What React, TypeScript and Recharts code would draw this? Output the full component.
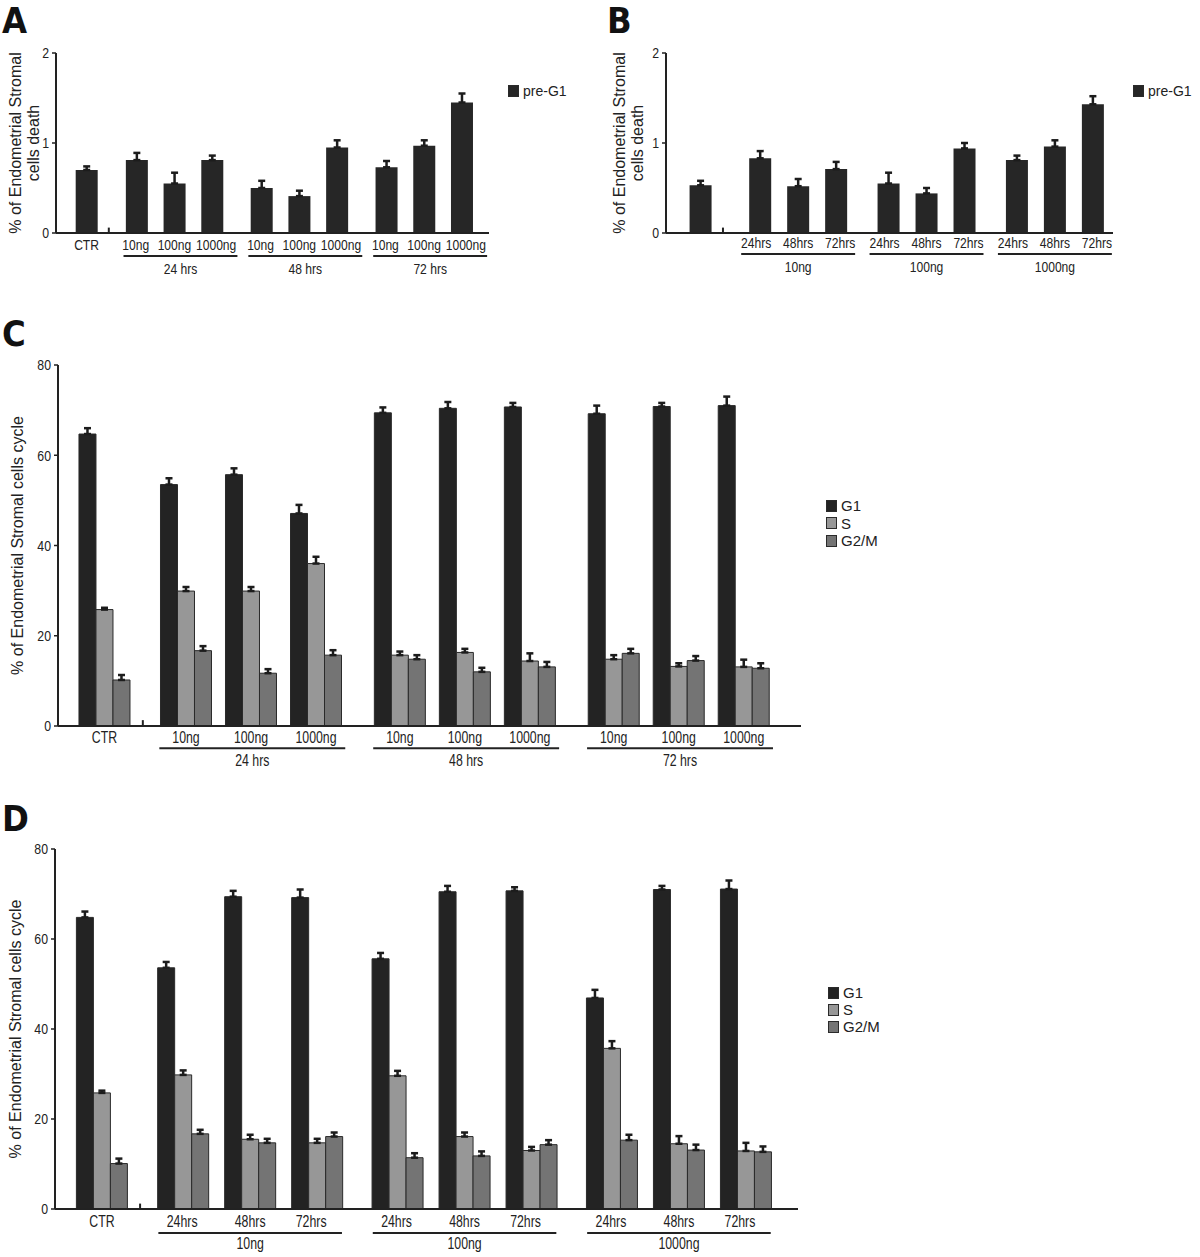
import React from 'react';
import { BarChart, Bar, XAxis, YAxis, ErrorBar, ReferenceLine, Legend } from 'recharts';

const SANS = '"Liberation Sans", Arial, "DejaVu Sans", sans-serif';
const LETTER_FONT = '"DejaVu Sans Condensed", "Liberation Sans Narrow", "Liberation Sans", sans-serif';
const INK = '#222222';

// ---------- Panel A : pre-G1, grouped by time ----------
const A_BAR_LABELS = ['CTR', '10ng', '100ng', '1000ng', '10ng', '100ng', '1000ng', '10ng', '100ng', '1000ng'];
const A_GROUP_LABELS = ['24 hrs', '48 hrs', '72 hrs'];
const A_PRE_G1 = [0.70, 0.81, 0.55, 0.81, 0.50, 0.41, 0.95, 0.73, 0.97, 1.45];
const A_PRE_G1_SEM = [0.04, 0.08, 0.12, 0.05, 0.08, 0.06, 0.08, 0.07, 0.06, 0.10];

// ---------- Panel B : pre-G1, grouped by dose ----------
const B_BAR_LABELS = ['', '24hrs', '48hrs', '72hrs', '24hrs', '48hrs', '72hrs', '24hrs', '48hrs', '72hrs'];
const B_GROUP_LABELS = ['10ng', '100ng', '1000ng'];
const B_PRE_G1 = [0.53, 0.83, 0.52, 0.71, 0.55, 0.44, 0.94, 0.81, 0.96, 1.43];
const B_PRE_G1_SEM = [0.05, 0.08, 0.08, 0.08, 0.12, 0.06, 0.06, 0.05, 0.07, 0.09];

// ---------- Panel C : cell cycle, grouped by time ----------
const C_BAR_LABELS = ['CTR', '10ng', '100ng', '1000ng', '10ng', '100ng', '1000ng', '10ng', '100ng', '1000ng'];
const C_GROUP_LABELS = ['24 hrs', '48 hrs', '72 hrs'];
const C_G1 = [64.7, 53.5, 55.7, 47.1, 69.4, 70.4, 70.7, 69.2, 70.8, 71.0];
const C_G1_SEM = [1.3, 1.4, 1.4, 1.9, 1.2, 1.4, 0.9, 1.8, 0.8, 2.0];
const C_S = [25.8, 29.9, 29.9, 36.0, 15.7, 16.3, 14.4, 14.8, 13.2, 13.1];
const C_S_SEM = [0.4, 0.9, 0.9, 1.5, 0.8, 0.8, 1.7, 0.9, 0.7, 1.6];
const C_G2M = [10.2, 16.7, 11.7, 15.7, 14.8, 12.0, 13.1, 16.1, 14.5, 12.8];
const C_G2M_SEM = [1.1, 1.0, 0.9, 1.1, 0.9, 0.9, 1.1, 1.0, 1.0, 1.1];

// ---------- Panel D : cell cycle, grouped by dose ----------
const D_BAR_LABELS = ['CTR', '24hrs', '48hrs', '72hrs', '24hrs', '48hrs', '72hrs', '24hrs', '48hrs', '72hrs'];
const D_GROUP_LABELS = ['10ng', '100ng', '1000ng'];
const D_G1 = [64.8, 53.6, 69.4, 69.2, 55.6, 70.5, 70.7, 46.9, 71.0, 71.1];
const D_G1_SEM = [1.3, 1.3, 1.3, 1.8, 1.3, 1.3, 0.8, 1.8, 0.8, 1.9];
const D_S = [25.8, 29.8, 15.5, 14.7, 29.6, 16.1, 13.0, 35.7, 14.5, 12.9];
const D_S_SEM = [0.5, 1.0, 1.0, 0.9, 1.1, 0.9, 0.8, 1.6, 1.7, 1.8];
const D_G2M = [10.1, 16.7, 14.7, 16.1, 11.4, 11.8, 14.3, 15.3, 13.1, 12.7];
const D_G2M_SEM = [1.1, 0.9, 0.9, 0.9, 1.0, 1.0, 1.0, 1.2, 1.2, 1.2];

const DEATH_TICKS = [0, 1, 2];
const CYCLE_TICKS = [0, 20, 40, 60, 80];

type Series = { key: string; name: string; fill: string; stroke: string; values: number[]; errors: number[] };

type Layout = {
  first: number; step: number; domain: [number, number];
  stub: number; stubH: number; ulL: number; ulR: number; ulY: number;
  nudge: number[];
};

type PanelProps = {
  left: number; top: number; width: number; height: number;
  margin: { top: number; right: number; bottom: number; left: number };
  yAxisWidth: number;
  barLabels: string[]; groupLabels: string[]; series: Series[];
  yDomain: [number, number]; yTicks: number[];
  layout: Layout; barSize: number;
  titleLines: string[]; titleXs: number[]; titleFont: number;
  tickFont: number; tickScale: number; tickMargin: number; groupTickMargin: number; axis1H: number; axis2H: number;
  legend: { left: number; top: number; rowH: number; fontSize: number };
};

function layoutPositions(first: number, step: number, groups: number, perGroup: number) {
  const p = [0];
  for (let g = 0; g < groups; g++) for (let k = 0; k < perGroup; k++) p.push(first + g * step + k);
  return p;
}

function buildRows(labels: string[], pos: number[], series: Series[]) {
  return labels.map((label, i) => {
    const row: Record<string, any> = { pos: pos[i], label };
    series.forEach((s) => {
      row[s.key] = s.values[i];
      row[s.key + 'Err'] = [0, s.errors[i]];
    });
    return row;
  });
}

const makeTitle = (lines: string[], xs: number[], fontSize: number) => (props: any) => {
  const vb = props && props.viewBox ? props.viewBox : { y: 0, height: 0 };
  const cy = (vb.y || 0) + (vb.height || 0) / 2;
  return (
    <g>
      {lines.map((t, i) => (
        <text
          key={i}
          x={xs[i]}
          y={cy}
          transform={`rotate(-90 ${xs[i]} ${cy})`}
          textAnchor="middle"
          dominantBaseline="central"
          fontFamily={SANS}
          fontSize={fontSize}
          fill={INK}
        >
          {t}
        </text>
      ))}
    </g>
  );
};

// condensed tick text (Arial-Narrow look)
const makeXTick = (format: (v: number) => { text: string; dx: number }, fontSize: number, scale: number) => (props: any) => {
  const { x, y, payload } = props;
  const f = format(payload.value);
  return (
    <g transform={`translate(${x + f.dx},${y})`}>
      <text
        transform={`scale(${scale},1)`}
        textAnchor="middle"
        dy={fontSize * 0.71}
        fontFamily={SANS}
        fontSize={fontSize}
        fill={INK}
      >
        {f.text}
      </text>
    </g>
  );
};

const makeYTick = (fontSize: number, scale: number) => (props: any) => {
  const { x, y, payload } = props;
  return (
    <g transform={`translate(${x},${y})`}>
      <text
        transform={`scale(${scale},1)`}
        textAnchor="end"
        dy={fontSize * 0.36}
        fontFamily={SANS}
        fontSize={fontSize}
        fill={INK}
      >
        {String(payload.value)}
      </text>
    </g>
  );
};

const LegendBox = ({ series, rowH, fontSize }: { series: Series[]; rowH: number; fontSize: number }) => (
  <div style={{ fontFamily: SANS, fontSize, color: INK, lineHeight: `${rowH}px` }}>
    {series.map((s) => (
      <div key={s.key} style={{ display: 'flex', alignItems: 'center', height: rowH, whiteSpace: 'nowrap' }}>
        <span
          style={{
            display: 'inline-block',
            width: 11,
            height: 12,
            background: s.fill,
            border: '1px solid #2a2a2a',
            boxSizing: 'border-box',
            marginRight: 4,
          }}
        />
        <span>{s.name}</span>
      </div>
    ))}
  </div>
);

function Panel(p: PanelProps) {
  const L = p.layout;
  const pos = layoutPositions(L.first, L.step, p.groupLabels.length, 3);
  const rows = buildRows(p.barLabels, pos, p.series);
  const spans = p.groupLabels.map((label, g) => {
    const start = L.first + g * L.step;
    const x1 = start + L.ulL;
    const x2 = start + 2 + L.ulR;
    return { label, x1, x2, mid: (x1 + x2) / 2 };
  });
  const labelAt = (v: number) => {
    let best = 0;
    pos.forEach((q, i) => { if (Math.abs(q - v) < Math.abs(pos[best] - v)) best = i; });
    return { text: p.barLabels[best], dx: best === 0 ? 0 : L.nudge[(best - 1) % 3] };
  };
  const groupAt = (v: number) => {
    let best = 0;
    spans.forEach((s, i) => { if (Math.abs(s.mid - v) < Math.abs(spans[best].mid - v)) best = i; });
    return { text: spans[best].label, dx: 0 };
  };
  return (
    <div style={{ position: 'absolute', left: p.left, top: p.top }}>
      <BarChart width={p.width} height={p.height} data={rows} margin={p.margin} barGap={0}>
        <XAxis
          xAxisId={0}
          dataKey="pos"
          type="number"
          domain={L.domain}
          allowDataOverflow
          ticks={pos}
          interval={0}
          tickLine={false}
          tickSize={0}
          tickMargin={p.tickMargin}
          height={p.axis1H}
          axisLine={{ stroke: INK, strokeWidth: 2 }}
          tick={makeXTick(labelAt, p.tickFont, p.tickScale)}
        />
        <XAxis
          xAxisId="grp"
          dataKey="pos"
          type="number"
          domain={L.domain}
          allowDataOverflow
          ticks={spans.map((s) => s.mid)}
          interval={0}
          tickLine={false}
          axisLine={false}
          tickSize={0}
          tickMargin={p.groupTickMargin}
          height={p.axis2H}
          tick={makeXTick(groupAt, p.tickFont, p.tickScale)}
        />
        <YAxis
          domain={p.yDomain}
          ticks={p.yTicks}
          allowDataOverflow
          interval={0}
          width={p.yAxisWidth}
          tickSize={4}
          tickMargin={3}
          axisLine={{ stroke: INK, strokeWidth: 2 }}
          tickLine={{ stroke: INK, strokeWidth: 1.5 }}
          tick={makeYTick(15, 0.82)}
          label={makeTitle(p.titleLines, p.titleXs, p.titleFont)}
        />
        <Legend
          layout="vertical"
          verticalAlign="middle"
          align="center"
          wrapperStyle={{ left: p.legend.left, top: p.legend.top, width: 'auto' }}
          content={() => <LegendBox series={p.series} rowH={p.legend.rowH} fontSize={p.legend.fontSize} />}
        />
        {p.series.map((s) => (
          <Bar
            key={s.key}
            dataKey={s.key}
            name={s.name}
            fill={s.fill}
            stroke={s.stroke}
            strokeWidth={1}
            barSize={p.barSize}
            isAnimationActive={false}
          >
            <ErrorBar dataKey={s.key + 'Err'} direction="y" width={3.5} strokeWidth={2.5} stroke="#1c1c1c" />
          </Bar>
        ))}
        {spans.map((s) => (
          <ReferenceLine
            key={s.label}
            segment={[{ x: s.x1, y: L.ulY }, { x: s.x2, y: L.ulY }]}
            stroke={INK}
            strokeWidth={2}
            ifOverflow="visible"
          />
        ))}
        <ReferenceLine
          segment={[{ x: L.stub, y: 0 }, { x: L.stub, y: L.stubH }]}
          stroke={INK}
          strokeWidth={2}
          ifOverflow="visible"
        />
      </BarChart>
    </div>
  );
}

const PanelLetter = ({ text, left, top }: { text: string; left: number; top: number }) => (
  <div
    style={{
      position: 'absolute', left, top, fontFamily: LETTER_FONT, fontWeight: 'bold',
      fontSize: 36, lineHeight: 'normal', color: '#111',
    }}
  >
    {text}
  </div>
);

const CYCLE_COLORS = { G1: '#232323', S: '#979797', G2M: '#747474' };

export default function App() {
  const seriesA: Series[] = [{ key: 'preG1', name: 'pre-G1', fill: '#262626', stroke: 'none', values: A_PRE_G1, errors: A_PRE_G1_SEM }];
  const seriesB: Series[] = [{ key: 'preG1', name: 'pre-G1', fill: '#262626', stroke: 'none', values: B_PRE_G1, errors: B_PRE_G1_SEM }];
  const seriesC: Series[] = [
    { key: 'G1', name: 'G1', fill: CYCLE_COLORS.G1, stroke: '#2a2a2a', values: C_G1, errors: C_G1_SEM },
    { key: 'S', name: 'S', fill: CYCLE_COLORS.S, stroke: '#2a2a2a', values: C_S, errors: C_S_SEM },
    { key: 'G2M', name: 'G2/M', fill: CYCLE_COLORS.G2M, stroke: '#2a2a2a', values: C_G2M, errors: C_G2M_SEM },
  ];
  const seriesD: Series[] = [
    { key: 'G1', name: 'G1', fill: CYCLE_COLORS.G1, stroke: '#2a2a2a', values: D_G1, errors: D_G1_SEM },
    { key: 'S', name: 'S', fill: CYCLE_COLORS.S, stroke: '#2a2a2a', values: D_S, errors: D_S_SEM },
    { key: 'G2M', name: 'G2/M', fill: CYCLE_COLORS.G2M, stroke: '#2a2a2a', values: D_G2M, errors: D_G2M_SEM },
  ];

  return (
    <div style={{ position: 'absolute', left: 0, top: 0, width: 1200, height: 1257, background: '#fff', overflow: 'hidden' }}>
      <PanelLetter text="A" left={2} top={0} />
      <PanelLetter text="B" left={607} top={0} />
      <PanelLetter text="C" left={2} top={313} />
      <PanelLetter text="D" left={2} top={798} />

      <Panel
        left={0} top={0} width={600} height={300}
        margin={{ top: 53, right: 111, bottom: 19, left: 0 }}
        yAxisWidth={56}
        barLabels={A_BAR_LABELS} groupLabels={A_GROUP_LABELS} series={seriesA}
        yDomain={[0, 2]} yTicks={DEATH_TICKS}
        layout={{ first: 1.33, step: 3.31, domain: [-0.81, 10.67], stub: 0.59, stubH: 0.06, ulL: -0.35, ulR: 0.67, ulY: -0.256, nudge: [-1, 0, 4] }}
        barSize={22}
        titleLines={['% of Endometrial Stromal', 'cells death']} titleXs={[15, 33]} titleFont={16}
        tickFont={15.5} tickScale={0.78} tickMargin={6} groupTickMargin={10} axis1H={20} axis2H={28}
        legend={{ left: 508, top: 84, rowH: 14, fontSize: 14 }}
      />

      <Panel
        left={600} top={0} width={600} height={300}
        margin={{ top: 53, right: 87, bottom: 19, left: 0 }}
        yAxisWidth={66}
        barLabels={B_BAR_LABELS} groupLabels={B_GROUP_LABELS} series={seriesB}
        yDomain={[0, 2]} yTicks={DEATH_TICKS}
        layout={{ first: 1.57, step: 3.38, domain: [-0.91, 10.86], stub: 0.59, stubH: 0.06, ulL: -0.5, ulR: 0.5, ulY: -0.233, nudge: [-4, 0, 4] }}
        barSize={22}
        titleLines={['% of Endometrial Stromal', 'cells death']} titleXs={[19, 37]} titleFont={16}
        tickFont={15.5} tickScale={0.78} tickMargin={4} groupTickMargin={8} axis1H={20} axis2H={28}
        legend={{ left: 533, top: 84, rowH: 14, fontSize: 14 }}
      />

      <Panel
        left={0} top={330} width={900} height={460}
        margin={{ top: 35, right: 99, bottom: 18, left: 0 }}
        yAxisWidth={58}
        barLabels={C_BAR_LABELS} groupLabels={C_GROUP_LABELS} series={seriesC}
        yDomain={[0, 80]} yTicks={CYCLE_TICKS}
        layout={{ first: 1.254, step: 3.29, domain: [-0.715, 10.715], stub: 0.59, stubH: 1.3, ulL: -0.41, ulR: 0.45, ulY: -4.95, nudge: [0, 0, 0] }}
        barSize={17}
        titleLines={['% of Endometrial Stromal cells cycle']} titleXs={[17]} titleFont={16}
        tickFont={16} tickScale={0.77} tickMargin={6} groupTickMargin={13} axis1H={16} axis2H={30}
        legend={{ left: 826, top: 167, rowH: 17.5, fontSize: 15 }}
      />

      <Panel
        left={0} top={815} width={900} height={440}
        margin={{ top: 34, right: 102, bottom: 4, left: 0 }}
        yAxisWidth={55}
        barLabels={D_BAR_LABELS} groupLabels={D_GROUP_LABELS} series={seriesD}
        yDomain={[0, 80]} yTicks={CYCLE_TICKS}
        layout={{ first: 1.213, step: 3.2, domain: [-0.70, 10.39], stub: 0.57, stubH: 1.2, ulL: -0.37, ulR: 0.37, ulY: -5.33, nudge: [-1, 0, -6] }}
        barSize={17}
        titleLines={['% of Endometrial Stromal cells cycle']} titleXs={[15]} titleFont={16}
        tickFont={16} tickScale={0.77} tickMargin={7} groupTickMargin={13} axis1H={16} axis2H={26}
        legend={{ left: 828, top: 169, rowH: 17, fontSize: 15 }}
      />
    </div>
  );
}
